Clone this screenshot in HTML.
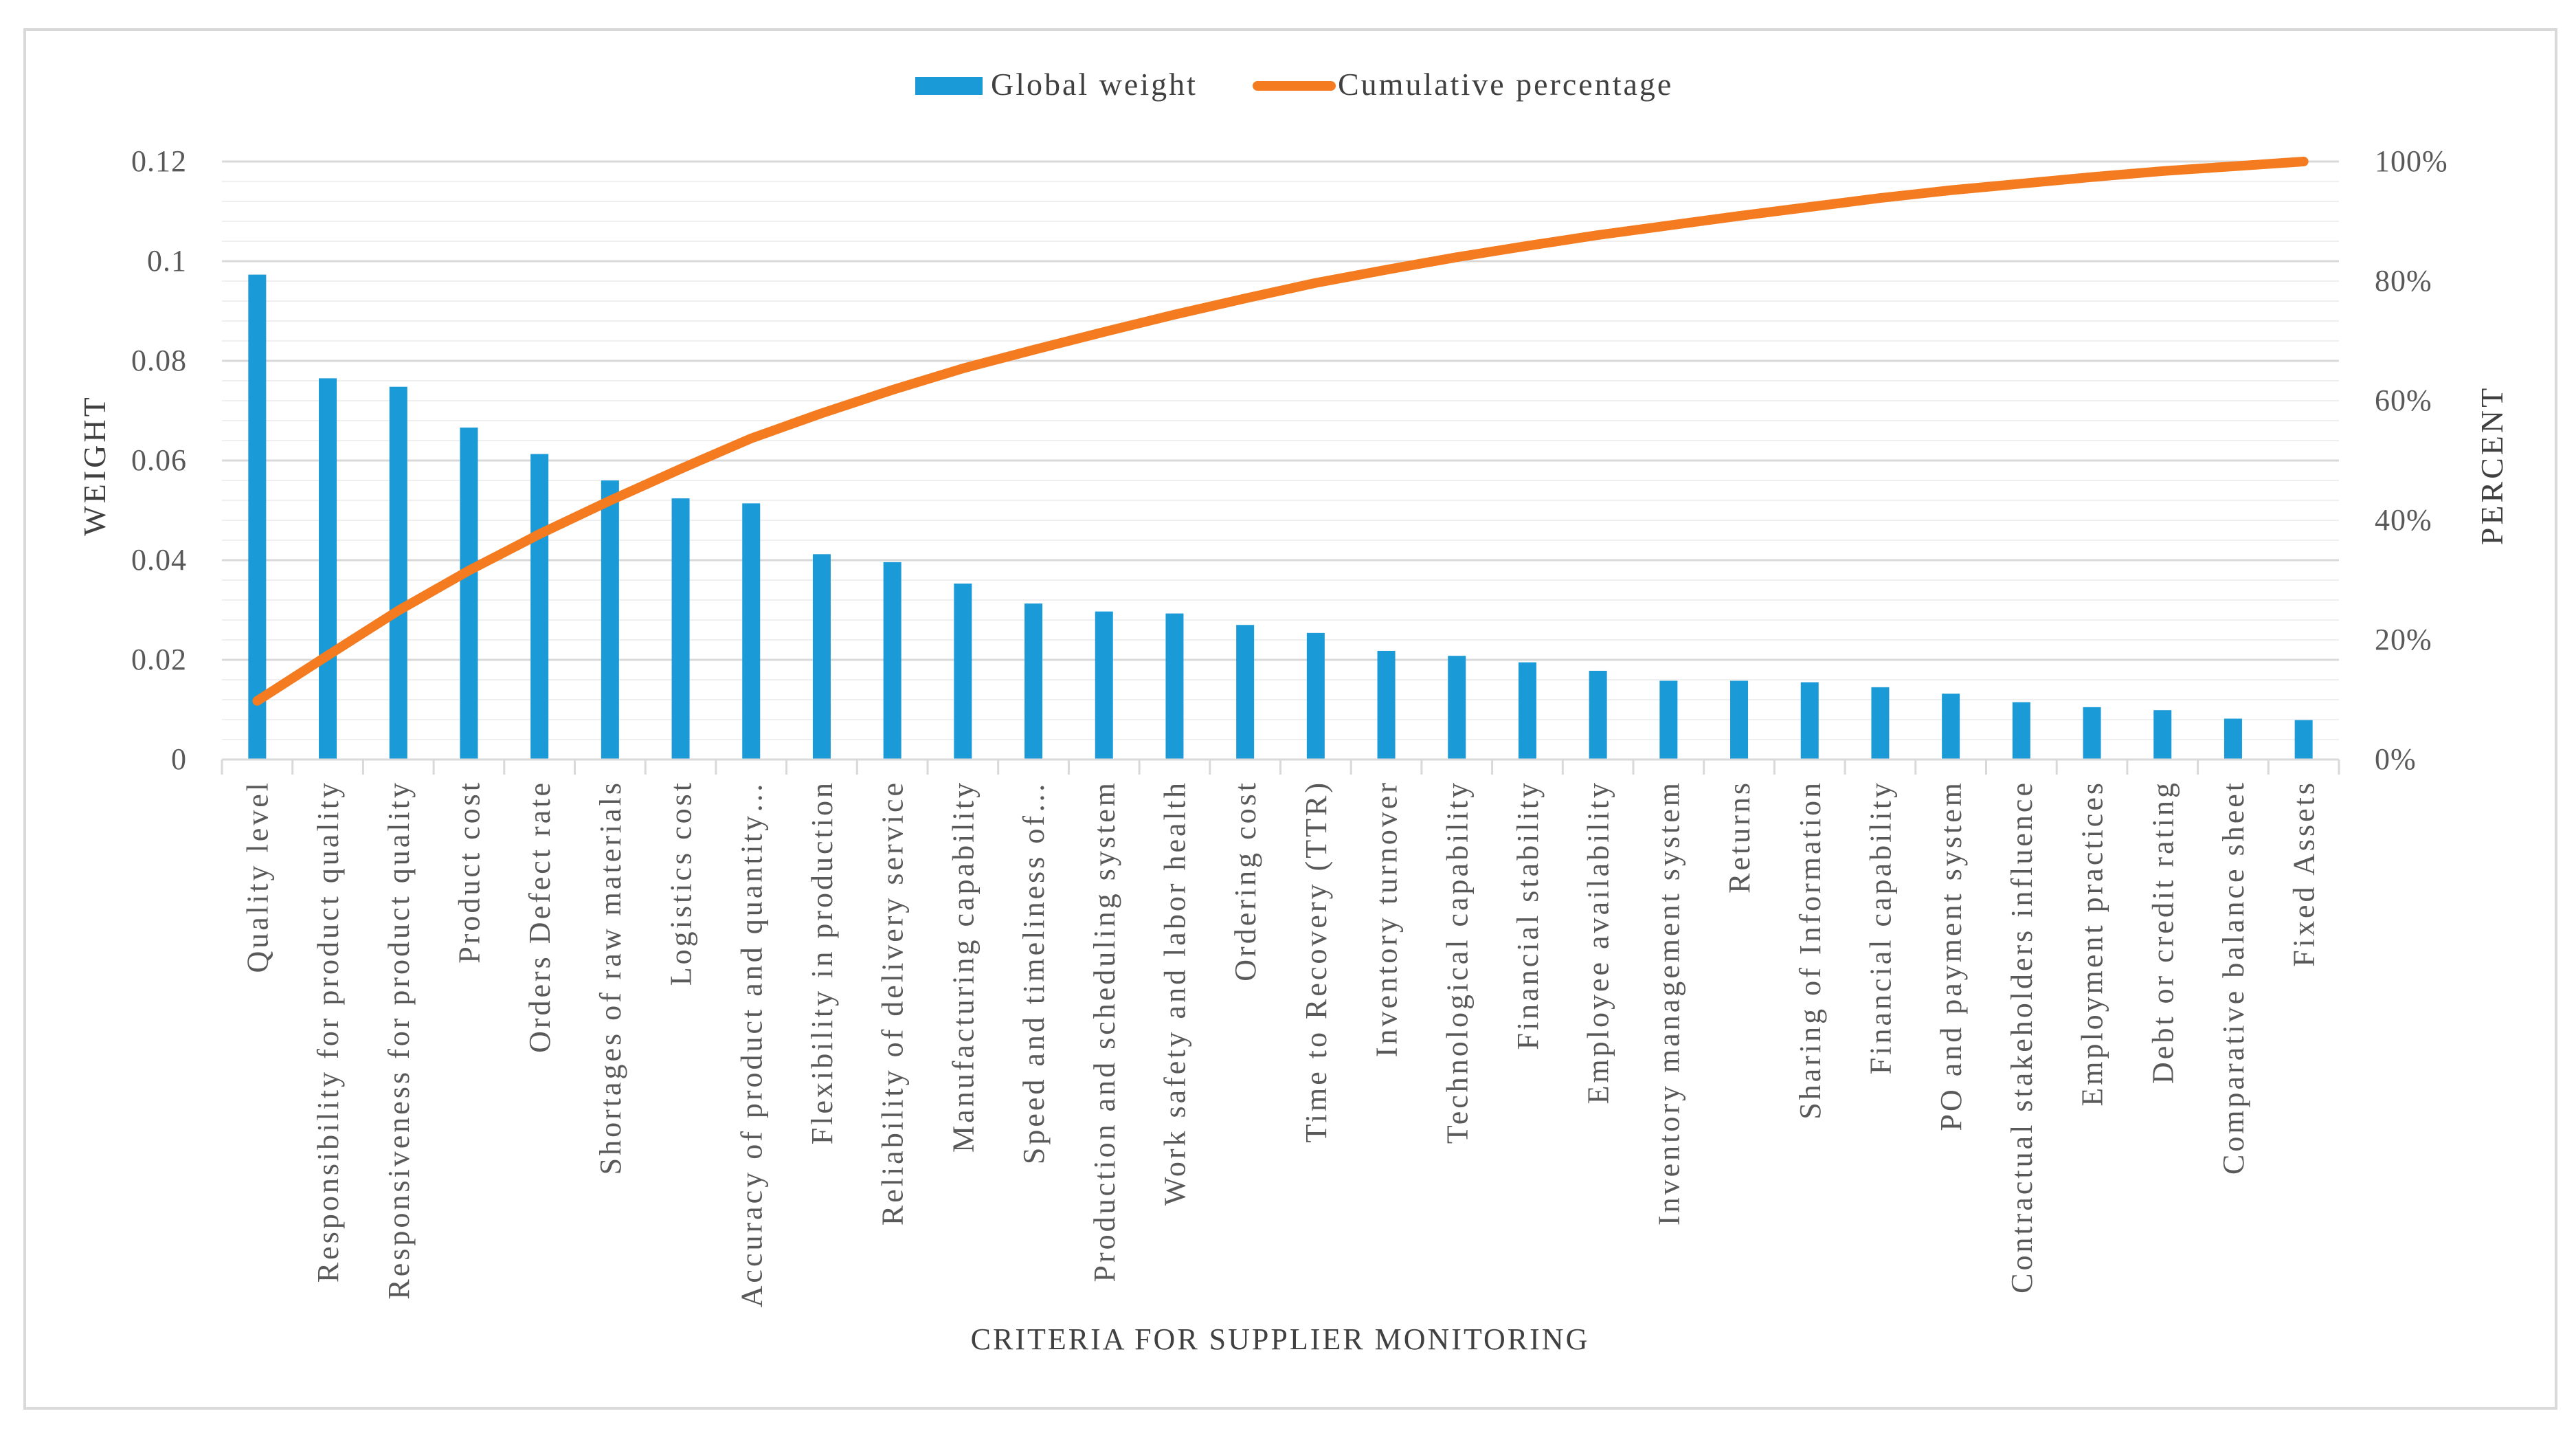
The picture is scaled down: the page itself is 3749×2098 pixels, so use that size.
<!DOCTYPE html>
<html><head><meta charset="utf-8"><style>
html,body{margin:0;padding:0;background:#fff;}
svg{display:block;font-family:"Liberation Serif",serif;}
</style></head><body>
<svg id="chart" width="3749" height="2098" viewBox="0 0 3749 2098" xmlns="http://www.w3.org/2000/svg">
<rect x="36" y="43" width="3684" height="2006" fill="#fff" stroke="#d9d9d9" stroke-width="4"/>
<g id="grid"></g>
<g id="bars"></g>
<g id="line"></g>
<g id="axes"></g>
<g>
<rect x="1332" y="112" width="98" height="26" fill="#1A9AD6"/>
<text x="1442" y="138" font-size="46" letter-spacing="3" fill="#404040">Global weight</text>
<line x1="1830" y1="125" x2="1937" y2="125" stroke="#F47B20" stroke-width="14" stroke-linecap="round"/>
<text x="1947" y="138" font-size="46" letter-spacing="3" fill="#404040">Cumulative percentage</text>
</g>
<text transform="translate(153,677) rotate(-90)" text-anchor="middle" font-size="46" letter-spacing="4" fill="#404040">WEIGHT</text>
<text transform="translate(3642,677) rotate(-90)" text-anchor="middle" font-size="46" letter-spacing="4" fill="#404040">PERCENT</text>
<text x="1863" y="1963" text-anchor="middle" font-size="44" letter-spacing="3" fill="#404040">CRITERIA FOR SUPPLIER MONITORING</text>
</svg>
<script>
const categories = ["Quality level","Responsibility for product quality","Responsiveness for product quality","Product cost","Orders Defect rate","Shortages of raw materials","Logistics cost","Accuracy of product and quantity…","Flexibility in production","Reliability of delivery service","Manufacturing capability","Speed and timeliness of…","Production and scheduling system","Work safety and labor health","Ordering cost","Time to Recovery (TTR)","Inventory turnover","Technological capability","Financial stability","Employee availability","Inventory management system","Returns","Sharing of Information","Financial capability","PO and payment system","Contractual stakeholders influence","Employment practices","Debt or credit rating","Comparative balance sheet","Fixed Assets"];
const weights = [0.0973,0.0765,0.0748,0.0666,0.0613,0.056,0.0524,0.0514,0.0412,0.0396,0.0353,0.0313,0.0297,0.0293,0.027,0.0254,0.0218,0.0208,0.0195,0.0178,0.0158,0.0158,0.0155,0.0145,0.0132,0.0115,0.0105,0.0099,0.0082,0.0079];
const cumulative = [9.8,17.4,24.9,31.6,37.7,43.3,48.6,53.7,57.9,61.8,65.4,68.5,71.5,74.4,77.1,79.7,81.9,84.0,85.9,87.7,89.3,90.9,92.4,93.9,95.2,96.3,97.4,98.4,99.2,100];
const leftTicks = ["0","0.02","0.04","0.06","0.08","0.1","0.12"];
const rightTicks = ["0%","20%","40%","60%","80%","100%"];

const NS="http://www.w3.org/2000/svg";
const L=323,R=3404,T=235,B=1105;
const step=(R-L)/categories.length;
const xc=i=>L+step*(i+0.5);
const yW=v=>B-(v/0.12)*(B-T);
const yP=p=>B-(p/100)*(B-T);
function mk(tag,attrs,parent){const e=document.createElementNS(NS,tag);for(const k in attrs)e.setAttribute(k,attrs[k]);parent.appendChild(e);return e;}
const grid=document.getElementById('grid'),bars=document.getElementById('bars'),line=document.getElementById('line'),axes=document.getElementById('axes');
for(let k=0;k<=30;k++){
  const v=k*0.004;const y=yW(v);
  const g=mk('line',{x1:L,x2:R,y1:y,y2:y,stroke:k%5===0?'#d9d9d9':'#efefef','stroke-width':k%5===0?3:2},grid);
  
  
}
leftTicks.forEach((t,i)=>{
  const e=mk('text',{x:272,y:yW(i*0.02)+14,'text-anchor':'end','font-size':44,'letter-spacing':1,fill:'#595959'},axes);
  e.textContent=t;
  
  
});
rightTicks.forEach((t,i)=>{
  const e=mk('text',{x:3456,y:yP(i*20)+14,'font-size':44,'letter-spacing':1,fill:'#595959'},axes);
  e.textContent=t;
  
  
});
const ax=mk('line',{x1:L,x2:R,y1:B,y2:B,stroke:'#d9d9d9','stroke-width':3},axes);


for(let i=0;i<=categories.length;i++){
  const tk=mk('line',{x1:L+step*i,x2:L+step*i,y1:B,y2:B+22,stroke:'#d9d9d9','stroke-width':3},axes);
  
  
}
weights.forEach((w,i)=>{
  const r=mk('rect',{x:xc(i)-13,y:yW(w),width:26,height:B-yW(w),fill:'#1A9AD6'},bars);
  
  
});
categories.forEach((c,i)=>{
  const t=mk('text',{transform:`translate(${xc(i)+15},${B+30}) rotate(-90)`,'text-anchor':'end','font-size':44,'letter-spacing':4,fill:'#595959'},axes);
  t.textContent=c;
  
  
});
const pts=cumulative.map((p,i)=>xc(i)+','+yP(p)).join(' ');
const pl=mk('polyline',{points:pts,fill:'none',stroke:'#F47B20','stroke-width':14,'stroke-linecap':'round','stroke-linejoin':'round'},line);


</script>
</body></html>
